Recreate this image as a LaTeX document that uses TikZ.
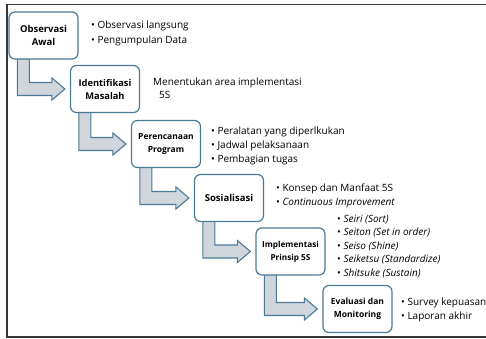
\documentclass[tikz,border=0pt]{standalone}
\usepackage{fontspec}
\setmainfont{Open Sans}
\usetikzlibrary{calc,backgrounds}
\definecolor{boxblue}{RGB}{74,122,150}
\definecolor{arrowfill}{RGB}{209,213,220}
\definecolor{framegray}{RGB}{55,55,55}
\tikzset{
  stage/.style={draw=boxblue, line width=1.2pt, rounded corners=6pt, fill=white,
    minimum width=69pt, minimum height=47pt, align=center, inner sep=0pt,
    font=\bfseries\fontsize{9}{13}\selectfont},
  fs/.style={font=\bfseries\fontsize{#1}{13}\selectfont},
  note/.style={anchor=base west, inner sep=0pt, font=\fontsize{10}{13}\selectfont},
  flow/.style={draw=boxblue, line width=1.1pt, fill=arrowfill, line join=miter},
}
\newcommand\flowarrow[2]{%
  \draw[flow] let \p1=(#1.south west), \p2=(#2.west) in
    (\x1+9pt,\y1+1pt) -- (\x1+9pt,\y2-6.5pt) -- (\x2-18pt,\y2-6.5pt) --
    (\x2-18pt,\y2-11pt) -- (\x2-5pt,\y2) -- (\x2-18pt,\y2+11pt) --
    (\x2-18pt,\y2+6.5pt) -- (\x1+21pt,\y2+6.5pt) -- (\x1+21pt,\y1+1pt) -- cycle;}
\begin{document}
\begin{tikzpicture}[x=1pt,y=-1pt]
\useasboundingbox (0,0) rectangle (486,339);
\draw[framegray, line width=1.5pt] (486,4.5) -- (7,4.5) -- (7,337) -- (486,337);

\node[stage, fs=9.5] (b1) at (43.5,35.5) {Observasi\\Awal};
\node[stage, fs=9.3] (b2) at (105,89) {Identifikasi\\Masalah};
\node[stage, fs=8.5] (b3) at (166,144) {Perencanaan\\Program};
\node[stage, fs=9.5] (b4) at (229,198) {Sosialisasi};
\node[stage, fs=8.2] (b5) at (290.5,251.5) {Implementasi\\Prinsip 5S};
\node[stage, fs=8.5] (b6) at (357.5,309) {Evaluasi dan\\Monitoring};

\begin{scope}[on background layer]
\flowarrow{b1}{b2}
\flowarrow{b2}{b3}
\flowarrow{b3}{b4}
\flowarrow{b4}{b5}
\flowarrow{b5}{b6}
\end{scope}

\node[note] (n11) at (91,28.5) {• Observasi langsung};
\node[note] (n12) at (91,43.5) {• Pengumpulan Data};
\node[note] (n21) at (153,85.5) {Menentukan area implementasi};
\node[note] (n22) at (159,98.5) {5S};
\node[note] (n31) at (211,135) {• Peralatan yang diperlkukan};
\node[note] (n32) at (211,148.5) {• Jadwal pelaksanaan};
\node[note] (n33) at (211,162) {• Pembagian tugas};
\node[note] (n41) at (276,191.5) {• Konsep dan Manfaat 5S};
\node[note] (n42) at (276,205.5) {• \textit{Continuous Improvement}};
\node[note] (n51) at (337,222.5) {•\ \textit{Seiri (Sort)}};
\node[note] (n52) at (337,235.5) {• \textit{Seiton (Set in order)}};
\node[note] (n53) at (337,249.5) {• \textit{Seiso (Shine)}};
\node[note] (n54) at (337,262.5) {• \textit{Seiketsu (Standardize)}};
\node[note] (n55) at (337,276.5) {• \textit{Shitsuke (Sustain)}};
\node[note] (n61) at (401,305.5) {• Survey kepuasan};
\node[note] (n62) at (401,319.5) {• Laporan akhir};
\end{tikzpicture}
\end{document}
